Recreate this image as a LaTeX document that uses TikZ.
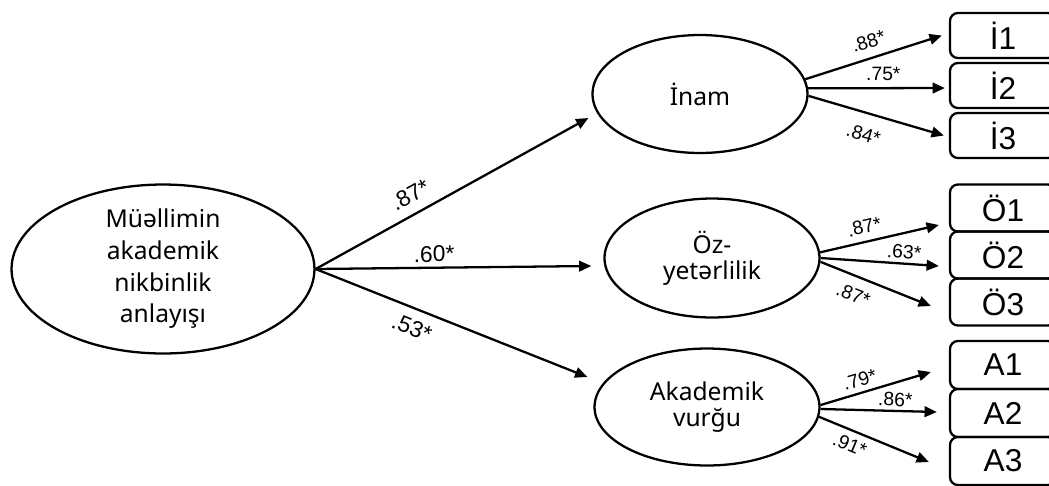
\documentclass[tikz,border=0pt]{standalone}
\usepackage{fontspec}
\setmainfont{Noto Sans}
\newfontfamily\arialfont{Liberation Sans}
\usetikzlibrary{shapes.geometric,arrows.meta,calc}

\tikzset{
    latent/.style={draw, ellipse, line width=1.3pt, inner sep=0pt, align=center,
        font=\fontsize{14}{15}\selectfont},
    itembox/.style={draw, rounded corners=4.5pt, line width=1.3pt, inner sep=0pt,
        minimum width=2.12cm, font=\arialfont\fontsize{18}{20}\selectfont},
    arr/.style={line width=1.3pt, -{Triangle[length=7pt,width=6pt]}},
    coefbig/.style={font=\arialfont\fontsize{13}{13}\selectfont, inner sep=2pt},
    coefsmall/.style={font=\arialfont\fontsize{11}{11}\selectfont, inner sep=2pt},
}

\begin{document}
\begin{tikzpicture}[x=0.02cm, y=-0.02cm]
    \useasboundingbox (0,0) rectangle (1049,485);

    % Ellissi latenti
    \node[latent, minimum width=6.06cm, minimum height=2.84cm, font=\fontsize{14}{18}\selectfont]
        (main) at (163,269) {Müəllimin\\akademik\\nikbinlik\\anlayışı};
    \node[latent, minimum width=4.3cm, minimum height=2.36cm] (inam) at (700,94) {İnam};
    \node[latent, minimum width=4.3cm, minimum height=2.38cm] (oz) at (712,258) {Öz-\\yetərlilik};
    \node[latent, minimum width=4.5cm, minimum height=2.34cm] (ak) at (707,407) {Akademik\\vurğu};

    % Indicatori
    \foreach \n/\y in {1/35.5,2/85.5,3/135.5} {
        \node[itembox, minimum height=0.9cm] (i\n) at (1003,\y) {İ\n};
    }
    \foreach \n/\y in {1/208,2/255,3/302} {
        \node[itembox, minimum height=0.94cm] (o\n) at (1003,\y) {Ö\n};
    }
    \foreach \n/\y in {1/365,2/413,3/461} {
        \node[itembox, minimum height=0.96cm] (a\n) at (1003,\y) {A\n};
    }

    % Percorsi strutturali
    \draw[arr] (main.east) -- node[coefbig, sloped, above=3.5pt, pos=0.38] {.87*} ($(inam.west)+(-3,24)$);
    \draw[arr] (main.east) -- node[coefbig, sloped, above=0.5pt, pos=0.43] {.60*} ($(oz.west)+(-12,8)$);
    \draw[arr] (main.east) -- node[coefbig, sloped, below=3.5pt, pos=0.38] {.53*} ($(ak.west)+(-6,-30)$);

    % Carichi fattoriali
    \draw[arr] (inam.8) -- node[coefsmall, sloped, above=3pt, pos=0.5] {.88*} ($(i1.west)+(-7,0)$);
    \draw[arr] (inam.3) -- node[coefsmall, sloped, above=1.5pt, pos=0.55] {.75*} ($(i2.west)+(-4,2.5)$);
    \draw[arr] (inam.-1) -- node[coefsmall, sloped, below=5.5pt, pos=0.45] {.84*} ($(i3.west)+(-5,0)$);

    \draw[arr] (oz.3) -- node[coefsmall, sloped, above=2pt, pos=0.4] {.87*} ($(o1.west)+(-10,17)$);
    \draw[arr] (oz.east) -- node[coefsmall, sloped, above=0pt, pos=0.7] {.63*} ($(o2.west)+(-10,11)$);
    \draw[arr] (oz.-2) -- node[coefsmall, sloped, below=4pt, pos=0.36] {.87*} ($(o3.west)+(-18,4)$);

    \draw[arr] (ak.1) -- node[coefsmall, sloped, above=1pt, pos=0.39] {.79*} ($(a1.west)+(-18,7)$);
    \draw[arr] (ak.-1) -- node[coefsmall, sloped, above=0pt, pos=0.64] {.86*} ($(a2.west)+(-12,-1)$);
    \draw[arr] (ak.-5) -- node[coefsmall, sloped, below=1.5pt, pos=0.33] {.91*} ($(a3.west)+(-20,1)$);
\end{tikzpicture}
\end{document}
